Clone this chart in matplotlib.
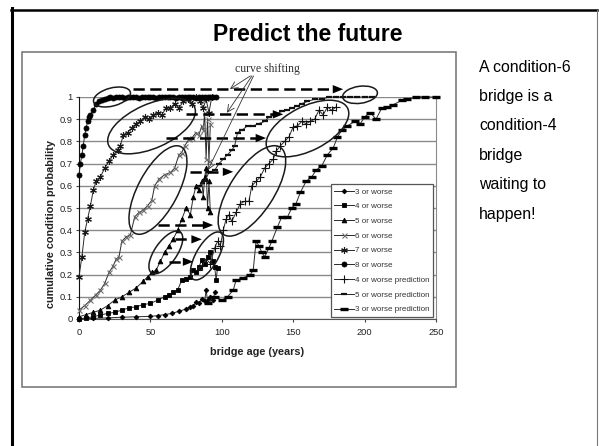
import matplotlib.pyplot as plt
import matplotlib.transforms as mtransforms
from matplotlib.patches import Ellipse, Rectangle
from matplotlib.lines import Line2D

plt.rcParams['font.family'] = ['Liberation Sans', 'DejaVu Sans']

W, H = 599, 446

# observed curves: bridge age (years) vs cumulative probability of "rating N or worse"
age_3 = [0, 10, 20, 30, 40, 50, 55, 60, 65, 70, 75, 78, 80, 82, 84, 86, 88, 89, 90, 92, 94, 95]
p_3 = [0.0, 0.003, 0.005, 0.008, 0.01, 0.012, 0.015, 0.02, 0.025, 0.035, 0.045, 0.055, 0.06,
       0.075, 0.07, 0.09, 0.08, 0.13, 0.085, 0.10, 0.085, 0.12]

age_4 = [0, 5, 10, 15, 20, 25, 30, 35, 40, 45, 50, 55, 60, 63, 66, 69, 72, 75, 78, 80, 82, 84,
         86, 88, 90, 92, 94, 95, 96, 97]
p_4 = [0.0, 0.005, 0.01, 0.018, 0.025, 0.03, 0.04, 0.05, 0.055, 0.065, 0.07, 0.085, 0.10, 0.11,
       0.12, 0.13, 0.175, 0.18, 0.19, 0.22, 0.21, 0.235, 0.265, 0.25, 0.28, 0.30, 0.26, 0.235,
       0.175, 0.23]

age_5 = [0, 5, 10, 15, 20, 25, 30, 35, 40, 45, 48, 51, 54, 57, 60, 63, 66, 69, 72, 75, 78, 80,
         82, 84, 86, 87, 88, 89, 90, 91, 92]
p_5 = [0.01, 0.02, 0.03, 0.04, 0.06, 0.085, 0.10, 0.12, 0.14, 0.17, 0.19, 0.21, 0.22, 0.26,
       0.30, 0.33, 0.36, 0.40, 0.45, 0.50, 0.47, 0.55, 0.60, 0.58, 0.62, 0.55, 0.64, 0.68, 0.50,
       0.62, 0.48]

age_6 = [0, 4, 8, 12, 15, 18, 21, 24, 26, 28, 30, 33, 36, 39, 42, 45, 48, 51, 53, 56, 60, 64,
         67, 70, 72, 74, 77, 79, 82, 84, 86, 87, 88, 89, 90, 91, 92]
p_6 = [0.04, 0.06, 0.085, 0.11, 0.13, 0.16, 0.21, 0.24, 0.27, 0.28, 0.35, 0.37, 0.38, 0.46,
       0.48, 0.49, 0.51, 0.535, 0.60, 0.63, 0.65, 0.66, 0.68, 0.74, 0.75, 0.78, 0.81, 0.815,
       0.84, 0.83, 0.87, 0.85, 0.93, 0.72, 0.90, 0.71, 0.88]

age_7 = [0, 2, 4, 6, 8, 10, 12, 15, 18, 21, 24, 27, 29, 31, 34, 37, 40, 43, 46, 49, 52, 55, 58,
         61, 64, 67, 70, 73, 76, 79, 82, 85, 87, 89, 91, 93]
p_7 = [0.19, 0.28, 0.39, 0.45, 0.51, 0.58, 0.62, 0.64, 0.68, 0.71, 0.74, 0.76, 0.78, 0.83,
       0.84, 0.86, 0.88, 0.89, 0.91, 0.90, 0.92, 0.93, 0.92, 0.95, 0.95, 0.97, 0.95, 0.98, 0.99,
       0.97, 1.0, 0.98, 0.95, 0.99, 0.93, 1.0]

age_8 = [0, 1, 2, 3, 4, 5, 6, 7, 8, 10, 12, 14, 16, 18, 20, 22, 24, 26, 28, 30, 32, 34, 36, 38,
         40, 42, 44, 46, 48, 50, 52, 54, 56, 58, 60, 62, 64, 66, 68, 70, 72, 74, 76, 78, 80, 82,
         84, 86, 88, 90, 92, 94, 96]
p_8 = [0.65, 0.70, 0.74, 0.78, 0.83, 0.86, 0.89, 0.91, 0.92, 0.94, 0.97, 0.98, 0.985, 0.99,
       0.995, 1.0, 0.995, 1.0, 1.0, 1.0, 0.995, 1.0, 1.0, 1.0, 1.0, 0.995, 1.0, 1.0, 1.0, 1.0,
       1.0, 0.995, 1.0, 1.0, 1.0, 1.0, 1.0, 1.0, 0.995, 1.0, 1.0, 1.0, 1.0, 1.0, 1.0, 0.995,
       1.0, 1.0, 1.0, 1.0, 1.0, 1.0, 1.0]

# predicted curves (lower-rating curves shifted along the age axis)
age_4p = [83, 86, 89, 92, 95, 97, 99, 101, 103, 105, 107, 110, 113, 116, 119, 121, 124, 127,
          130, 133, 136, 138, 141, 144, 147, 150, 153, 156, 159, 162, 165, 168, 171, 174, 177, 180]
p_4p = [0.22, 0.24, 0.27, 0.25, 0.32, 0.35, 0.33, 0.40, 0.45, 0.47, 0.44, 0.48, 0.52, 0.53,
        0.53, 0.60, 0.62, 0.64, 0.68, 0.70, 0.72, 0.755, 0.78, 0.80, 0.82, 0.866, 0.87, 0.89,
        0.88, 0.89, 0.90, 0.94, 0.92, 0.955, 0.94, 0.955]

age_5p = [84, 88, 91, 95, 98, 101, 104, 107, 109, 111, 114, 118, 122, 126, 130, 133, 137, 142,
          146, 149, 153, 156, 160, 165, 170, 175, 180, 185, 190, 195, 200, 205]
p_5p = [0.60, 0.62, 0.66, 0.67, 0.70, 0.72, 0.74, 0.76, 0.78, 0.84, 0.85, 0.87, 0.87, 0.88,
        0.89, 0.91, 0.92, 0.935, 0.94, 0.95, 0.96, 0.97, 0.98, 0.99, 0.99, 1.0, 1.0, 1.0, 1.0,
        1.0, 1.0, 1.0]

age_3p = [90, 95, 100, 104, 108, 110, 115, 120, 122, 124, 126, 128, 130, 133, 135, 139, 142,
          146, 149, 152, 155, 159, 163, 166, 170, 174, 178, 181, 184, 188, 193, 197, 200, 204,
          208, 212, 216, 220, 226, 230, 236, 242, 250]
p_3p = [0.07, 0.10, 0.085, 0.10, 0.13, 0.175, 0.185, 0.20, 0.22, 0.35, 0.33, 0.30, 0.28, 0.32,
        0.35, 0.415, 0.46, 0.46, 0.50, 0.52, 0.57, 0.62, 0.64, 0.67, 0.69, 0.74, 0.77, 0.82,
        0.85, 0.87, 0.89, 0.88, 0.91, 0.93, 0.90, 0.95, 0.955, 0.965, 0.985, 0.99, 1.0, 1.0, 1.0]

labels = ["3 or worse", "4 or worse", "5 or worse", "6 or worse", "7 or worse", "8 or worse",
          "4 or worse prediction", "5 or worse prediction", "3 or worse prediction"]

side_text = ["A condition-6", "bridge is a", "condition-4", "bridge", "waiting to", "happen!"]

# (x, y, marker, size, edge width, marker colour)
series = [
    (age_3, p_3, "D", 2.4, 0.6, "k"),
    (age_4, p_4, "s", 3.2, 0.6, "k"),
    (age_5, p_5, "^", 3.4, 0.6, "k"),
    (age_6, p_6, "x", 3.6, 0.8, "#707070"),
    (age_7, p_7, (6, 2, 0), 4.8, 0.8, "#1a1a1a"),
    (age_8, p_8, "o", 3.6, 0.6, "k"),
    (age_4p, p_4p, "+", 5.5, 0.8, "#111111"),
    (age_5p, p_5p, "_", 3.8, 1.6, "#111111"),
    (age_3p, p_3p, "_", 5.5, 2.4, "k"),
]

fig = plt.figure(figsize=(W / 100, H / 100), dpi=100)

# slide border
fig.add_artist(Line2D([11.8 / W] * 2, [0, 1 - 8 / H], color="k", lw=2.2))
fig.add_artist(Line2D([11 / W, 597 / W], [1 - 9.5 / H] * 2, color="k", lw=1.8))
fig.add_artist(Line2D([597 / W] * 2, [0, 1 - 9.5 / H], color="#777777", lw=0.8))

# chart frame
fig.add_artist(Rectangle((22 / W, 1 - 387 / H), 434 / W, 335 / H, transform=fig.transFigure,
                         fill=False, ec="#707070", lw=1.1))

fig.text(307.5 / W, 1 - 40.7 / H, "Predict the future", ha="center", va="baseline",
         fontsize=16.5, fontweight="bold")

for i, line in enumerate(side_text):
    fig.text(479 / W, 1 - (71.7 + 29.4 * i) / H, line, ha="left", va="baseline", fontsize=11.4)

ax = fig.add_axes([79 / W, 1 - 319 / H, 357 / W, 222 / H])
ax.set_xlim(0, 250)
ax.set_ylim(0, 1)

handles = []
for (x, y, m, ms, mew, mc), lab in zip(series, labels):
    h, = ax.plot(x, y, color="#2a2a2a", lw=0.7, marker=m, ms=ms, mew=mew, mec=mc, mfc=mc,
                 clip_on=False, zorder=3, label=lab)
    handles.append(h)

ax.set_xticks([0, 50, 100, 150, 200, 250])
yt = [0, 0.1, 0.2, 0.3, 0.4, 0.5, 0.6, 0.7, 0.8, 0.9, 1.0]
ax.set_yticks(yt)
ax.set_yticklabels(["0", "0.1", "0.2", "0.3", "0.4", "0.5", "0.6", "0.7", "0.8", "0.9", "1"])
ax.yaxis.grid(True, color="#8a8a8a", lw=1.0)
ax.set_axisbelow(True)
ax.tick_params(axis="both", direction="out", length=2.5, width=0.8, labelsize=6.7,
               labelcolor="#222222", color="#444444")
ax.tick_params(axis="x", pad=4)
ax.tick_params(axis="y", pad=2)
ax.spines["top"].set_visible(False)
ax.spines["right"].set_color("#8a8a8a")
ax.spines["left"].set_color("#111111")
ax.spines["bottom"].set_color("#555555")

fig.text(257.5 / W, 1 - 352 / H, "bridge age (years)", ha="center", va="center",
         fontsize=7.8, fontweight="bold", color="#222222")
fig.text(51 / W, 1 - 224 / H, "cumulative condition probability", ha="center", va="center",
         rotation=90, fontsize=7.8, fontweight="bold", color="#222222")

leg = ax.legend(handles=handles, loc="lower right", bbox_to_anchor=(0.992, 0.009),
                borderaxespad=0, fontsize=5.8, frameon=True, fancybox=False, framealpha=1,
                edgecolor="#555555", handlelength=2.4, handletextpad=0.15, labelspacing=0.88,
                borderpad=0.45)
leg.get_frame().set_linewidth(0.9)
for t in leg.get_texts():
    t.set_color("#333333")

# highlighted regions of the curves, sized in pixels around a data-space centre
rings = [
    (23.1, 1.0, 38, 18, 15),
    (50.8, 0.869, 94, 44, 24),
    (55.3, 0.581, 98, 40, 62),
    (60.8, 0.30, 50, 22, 55),
    (89.6, 0.284, 54, 22, 60),
    (121.1, 0.577, 104, 44, 57),
    (160.0, 0.858, 90, 44, 27),
    (196.8, 1.01, 35, 17, 8),
]
for cx, cy, w, h, ang in rings:
    tr = fig.dpi_scale_trans + mtransforms.ScaledTranslation(cx, cy, ax.transData)
    ax.add_patch(Ellipse((0, 0), w / 100, h / 100, angle=ang, transform=tr, fill=False,
                         ec="#1a1a1a", lw=1.1, clip_on=False, zorder=5))

# dashed shift arrows: (level, start age, end age)
shifts = [
    (1.035, 38, 185),
    (0.922, 75, 143),
    (0.815, 61, 131),
    (0.663, 78, 108),
    (0.423, 55, 94),
    (0.359, 67, 86),
    (0.258, 63, 80),
]
for yv, x0, x1 in shifts:
    ax.plot([x0, x1 - 6], [yv, yv], color="k", lw=1.8, ls=(0, (4.5, 2.2)), clip_on=False,
            zorder=6, dash_capstyle="butt")
    ax.annotate("", xy=(x1, yv), xytext=(x1 - 6, yv), annotation_clip=False, zorder=6,
                arrowprops=dict(arrowstyle="-|>,head_length=0.75,head_width=0.3", color="k",
                                lw=0, mutation_scale=10, shrinkA=0, shrinkB=0))

ax.text(131.7, 1.126, "curve shifting", ha="center", va="center", fontsize=8.5,
        family=["Liberation Serif", "DejaVu Serif"], color="#333333", clip_on=False)
for sx, tx, ty in [(120.0, 105.7, 1.036), (121.1, 103.6, 0.929), (122.2, 90.3, 0.671)]:
    ax.annotate("", xy=(tx, ty), xytext=(sx, 1.095), annotation_clip=False, zorder=6,
                arrowprops=dict(arrowstyle="->,head_length=0.5,head_width=0.25", color="#333333",
                                lw=0.6, shrinkA=0, shrinkB=0))

fig.savefig("out.png", dpi=100)
